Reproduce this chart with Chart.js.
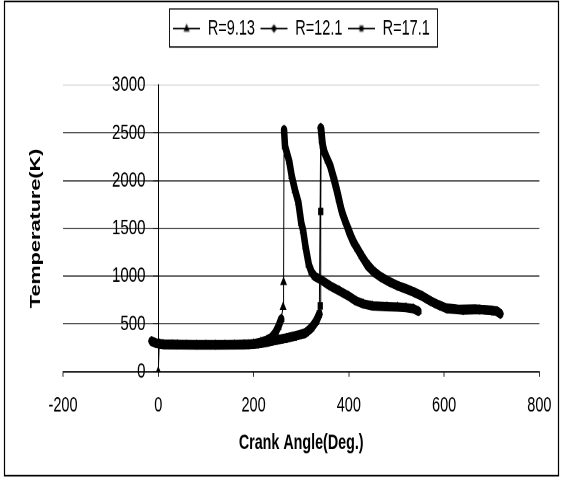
<!DOCTYPE html>
<html>
<head>
<meta charset="utf-8">
<script src="https://cdn.jsdelivr.net/npm/chart.js@4.4.0/dist/chart.umd.min.js"></script>
<style>
  html, body { margin: 0; padding: 0; background: #fff; overflow: hidden; }
  #wrap { width: 563px; height: 480px; }
  /* the source figure is a vertically stretched Excel chart: draw it at 563x333, stretch to 480 */
  #tempChart { display: block; transform: scaleY(1.4414); transform-origin: 0 0; }
</style>
</head>
<body>
<div id="wrap"><canvas id="tempChart" width="563" height="333"></canvas></div>
<script>
// crank angle (deg) vs gas temperature (K)
var seriesNames = ["R=9.13", "R=12.1", "R=17.1"];

var angle913 = [0, 2, 10, 30, 60, 100, 140, 180, 200, 215, 228, 238, 246, 252, 258, 262, 263, 264, 266, 270, 275, 280, 287, 294, 300, 304, 309, 316, 322, 329, 346, 360, 381, 400, 415, 430, 450, 480, 502, 520, 535, 546];
var temp913  = [0, 292, 285, 282, 280, 280, 281, 285, 292, 308, 330, 360, 410, 470, 550, 677, 937, 2530, 2360, 2290, 2200, 2050, 1900, 1775, 1560, 1480, 1310, 1120, 1040, 995, 948, 900, 844, 790, 740, 710, 688, 680, 677, 670, 660, 632];

var angle121 = [-14, -5, 10, 40, 80, 120, 160, 190, 210, 230, 250, 270, 290, 308, 320, 330, 338, 341, 344, 346, 350, 360, 366, 373, 380, 387, 395, 402, 410, 419, 428, 440, 453, 467, 485, 502, 520, 537, 555, 571, 590, 606, 640, 675, 700, 712, 718];
var temp121  = [320, 300, 288, 284, 282, 282, 283, 287, 295, 312, 332, 352, 376, 400, 450, 520, 600, 2552, 2400, 2340, 2280, 2170, 2060, 1927, 1780, 1646, 1540, 1440, 1350, 1281, 1200, 1104, 1040, 990, 940, 900, 868, 833, 790, 740, 695, 660, 645, 650, 640, 630, 605];

var angle171 = [-12, -4, 12, 45, 85, 125, 165, 195, 215, 235, 255, 275, 295, 310, 322, 332, 338, 340, 341, 342, 345, 348, 355, 362, 370, 377, 384, 392, 400, 408, 417, 426, 438, 450, 465, 482, 500, 518, 535, 552, 568, 585, 602, 630, 665, 695, 710, 716];
var temp171  = [312, 296, 284, 280, 279, 279, 281, 286, 296, 316, 338, 360, 384, 410, 462, 530, 604, 688, 1677, 2540, 2380, 2310, 2220, 2140, 2000, 1860, 1700, 1580, 1480, 1380, 1295, 1220, 1130, 1060, 1000, 950, 905, 870, 835, 795, 750, 705, 670, 652, 655, 645, 635, 612];

var xTicks = [-200, 0, 200, 400, 600, 800];
var yTicks = [0, 500, 1000, 1500, 2000, 2500, 3000];

Chart.defaults.font.family = "'Liberation Sans', Arial, sans-serif";
Chart.defaults.color = '#000';

function pts(xs, ys) {
  return xs.map(function (x, i) { return { x: x, y: ys[i] }; });
}

function plain(v) { return String(v); }

function setTicks(list) {
  return function (axis) {
    axis.ticks = list.map(function (v) { return { value: v }; });
  };
}

// steep rises are drawn thin, the dense-marker parts thick
function jumpWidth(c) {
  var dx = Math.max(Math.abs(c.p1.parsed.x - c.p0.parsed.x), 0.01);
  var rise = (c.p1.parsed.y - c.p0.parsed.y) / dx;
  return rise > 30 ? 1 : undefined;
}

function legendIcon(shape) {
  var c = document.createElement('canvas');
  c.width = 27;
  c.height = 9;
  var g = c.getContext('2d');
  g.strokeStyle = '#000';
  g.fillStyle = '#000';
  g.lineWidth = 1;
  g.beginPath();
  g.moveTo(0, 4.5);
  g.lineTo(27, 4.5);
  g.stroke();
  g.beginPath();
  if (shape === 'triangle') {
    g.moveTo(13.5, 1); g.lineTo(16.5, 6.5); g.lineTo(10.5, 6.5);
  } else if (shape === 'rectRot') {
    g.moveTo(13.5, 1.5); g.lineTo(16.5, 4.5); g.lineTo(13.5, 7.5); g.lineTo(10.5, 4.5);
  } else {
    g.rect(11.5, 2.5, 4, 4);
  }
  g.closePath();
  g.fill();
  return c;
}

var shapes = ['triangle', 'rectRot', 'rect'];
var legendIcons = shapes.map(legendIcon);

function makeSet(i, xs, ys) {
  return {
    label: seriesNames[i],
    data: pts(xs, ys),
    borderColor: '#000',
    backgroundColor: '#000',
    borderWidth: 6.5,
    borderCapStyle: 'round',
    borderJoinStyle: 'round',
    pointStyle: shapes[i],
    pointRadius: 3,
    pointBackgroundColor: '#000',
    pointBorderColor: '#000',
    pointBorderWidth: 1,
    tension: 0,
    yAxisID: 'y',
    segment: { borderWidth: jumpWidth }
  };
}

var frame = {
  id: 'frame',
  beforeDraw: function (chart) {
    var ctx = chart.ctx;
    ctx.save();
    ctx.fillStyle = '#fff';
    ctx.fillRect(0, 0, chart.width, chart.height);
    ctx.restore();
  },
  afterDraw: function (chart) {
    var ctx = chart.ctx;
    ctx.save();
    ctx.strokeStyle = '#000';
    ctx.lineWidth = 1.2;
    ctx.strokeRect(4.5, 1, 554, 329);
    // box round the legend
    var boxes = chart.legend.legendHitBoxes;
    if (boxes && boxes.length) {
      var first = boxes[0], last = boxes[boxes.length - 1];
      var l = Math.round(first.left - 4) + 0.5;
      var r = Math.round(last.left + last.width + 7) + 0.5;
      var t = first.top - 6.35;
      ctx.lineWidth = 0.9;
      ctx.strokeRect(l, t, r - l, 26.4);
    }
    ctx.restore();
  }
};

var ctx = document.getElementById('tempChart').getContext('2d');
var myChart = new Chart(ctx, {
  type: 'line',
  data: {
    datasets: [
      makeSet(0, angle913, temp913),
      makeSet(1, angle121, temp121),
      makeSet(2, angle171, temp171)
    ]
  },
  options: {
    responsive: false,
    animation: false,
    devicePixelRatio: 2,
    layout: { padding: { left: 10, right: 20, top: 7.55, bottom: 17 } },
    plugins: {
      tooltip: { enabled: false },
      // empty title used as the gap between legend and plot
      title: {
        display: true,
        text: '',
        weight: 500,
        padding: 0,
        font: { size: 21.95, lineHeight: 1 }
      },
      legend: {
        position: 'top',
        fullSize: false,
        labels: {
          usePointStyle: true,
          pointStyleWidth: 28,
          padding: 5,
          color: '#000',
          font: { size: 14.5 },
          generateLabels: function (chart) {
            var items = Chart.defaults.plugins.legend.labels.generateLabels(chart);
            items.forEach(function (it, i) { it.pointStyle = legendIcons[i]; });
            return items;
          }
        }
      }
    },
    scales: {
      x: {
        type: 'linear',
        min: xTicks[0],
        max: xTicks[xTicks.length - 1],
        afterBuildTicks: setTicks(xTicks),
        grid: { drawOnChartArea: false, drawTicks: true, tickLength: 3.5, color: '#000', lineWidth: 0.8 },
        border: { color: '#000', width: 0.8 },
        ticks: { color: '#000', padding: 11.5, maxRotation: 0, font: { size: 14.5 }, callback: plain },
        title: {
          display: true,
          text: 'Crank Angle(Deg.)',
          color: '#000',
          font: { size: 14.3, weight: 'bold' },
          padding: { top: -2.9, bottom: 0 }
        }
      },
      // value axis crossing at angle 0: line, tick marks and grid
      y: {
        type: 'linear',
        position: { x: 0 },
        min: yTicks[0],
        max: yTicks[yTicks.length - 1],
        afterBuildTicks: setTicks(yTicks),
        grid: {
          tickLength: 5,
          lineWidth: 0.75,
          color: function (c) { return c.tick && c.tick.value === 3000 ? '#d8d8d8' : '#1a1a1a'; }
        },
        border: { color: '#000', width: 1 },
        ticks: { display: false }
      },
      // tick labels, set a little left of the crossing axis
      yLabels: {
        axis: 'y',
        type: 'linear',
        position: { x: -27 },
        min: yTicks[0],
        max: yTicks[yTicks.length - 1],
        afterBuildTicks: setTicks(yTicks),
        grid: { display: false, drawTicks: false },
        border: { display: false },
        ticks: { color: '#000', font: { size: 15 }, callback: plain }
      },
      yTitle: {
        axis: 'y',
        type: 'linear',
        position: 'left',
        min: 0,
        max: 3000,
        grid: { display: false, drawTicks: false },
        border: { display: false },
        ticks: { display: false },
        title: {
          display: true,
          text: 'Temperature(K)',
          color: '#000',
          font: { size: 15, weight: 'bold' },
          padding: { top: 17, bottom: 18 }
        }
      }
    }
  },
  plugins: [frame]
});
</script>
</body>
</html>
